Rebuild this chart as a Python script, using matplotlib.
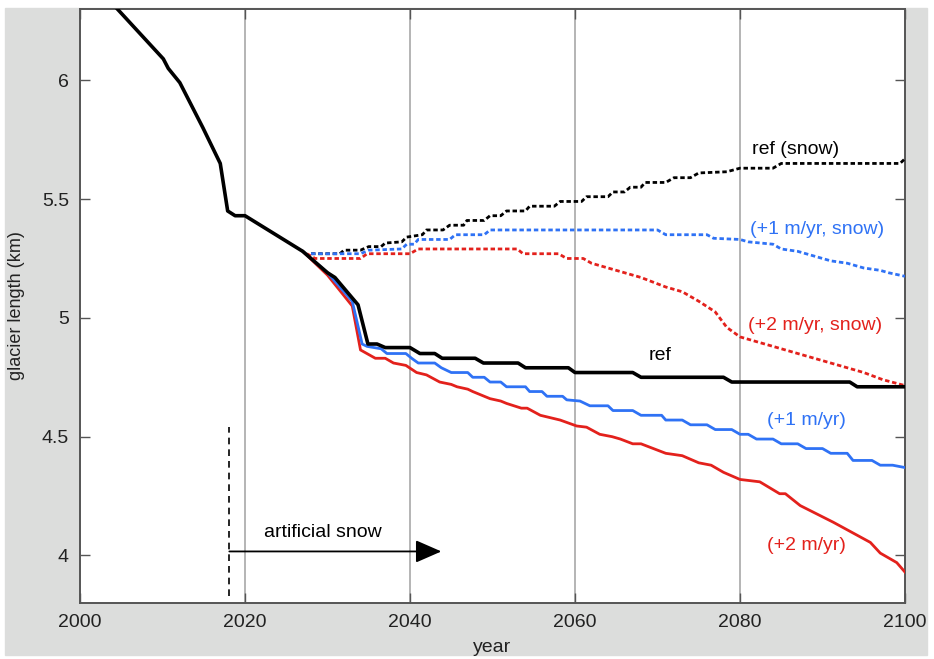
import matplotlib
matplotlib.use("Agg")
import matplotlib.pyplot as plt
from matplotlib.patches import Rectangle

plt.rcParams['font.family'] = ['Liberation Sans', 'DejaVu Sans']

# reference run (black solid), includes the observed past
ref_years = [2004, 2010.1, 2010.7, 2012.1, 2014.9, 2017.0, 2017.9, 2018.8, 2020, 2027,
             2030, 2030.9, 2033.7, 2034.9, 2036, 2037, 2040, 2041.2, 2043, 2043.9,
             2047.9, 2048.9, 2053.1, 2054, 2059.2, 2060, 2067, 2068, 2078, 2079,
             2093.3, 2094.2, 2100]
ref_len = [6.32, 6.09, 6.05, 5.99, 5.80, 5.65, 5.45, 5.43, 5.43, 5.28,
           5.19, 5.17, 5.055, 4.89, 4.89, 4.875, 4.875, 4.85, 4.85, 4.83,
           4.83, 4.81, 4.81, 4.79, 4.79, 4.77, 4.77, 4.75, 4.75, 4.73,
           4.73, 4.71, 4.71]

# +1 m/yr (blue solid)
p1_years = [2027, 2030, 2033, 2034.2, 2034.8, 2036.5, 2037.2, 2039.5, 2040.2, 2041,
            2043, 2043.8, 2045, 2047, 2047.6, 2049, 2049.7, 2051, 2051.7, 2054,
            2054.5, 2056, 2056.6, 2058.5, 2059, 2060.6, 2061.8, 2064, 2064.6, 2067,
            2068, 2070.5, 2071, 2073, 2074, 2076, 2077, 2079, 2080, 2081,
            2082, 2084, 2085, 2087, 2088, 2090, 2091, 2093, 2093.7, 2096,
            2097, 2098.5, 2100]
p1_len = [5.28, 5.19, 5.07, 4.89, 4.88, 4.87, 4.85, 4.85, 4.83, 4.81,
          4.81, 4.79, 4.77, 4.77, 4.75, 4.75, 4.73, 4.73, 4.71, 4.71,
          4.69, 4.69, 4.67, 4.67, 4.655, 4.65, 4.63, 4.63, 4.61, 4.61,
          4.59, 4.59, 4.57, 4.57, 4.55, 4.55, 4.53, 4.53, 4.51, 4.51,
          4.49, 4.49, 4.47, 4.47, 4.45, 4.45, 4.43, 4.43, 4.40, 4.40,
          4.38, 4.38, 4.37]

# +2 m/yr (red solid)
p2_years = [2027, 2030, 2033, 2034, 2035.8, 2037, 2038, 2039.5, 2040.8, 2042,
            2043.6, 2045, 2045.7, 2047, 2047.6, 2049, 2049.7, 2051, 2051.7, 2053.5,
            2054.2, 2055.8, 2057, 2058.2, 2060.2, 2061.4, 2063, 2064.5, 2065.5, 2067,
            2068, 2071, 2073, 2075, 2076.5, 2078, 2080, 2082.4, 2084.8, 2085.5,
            2087.3, 2091.3, 2095.8, 2097, 2099, 2100]
p2_len = [5.28, 5.18, 5.05, 4.865, 4.83, 4.83, 4.81, 4.80, 4.77, 4.76,
          4.73, 4.72, 4.71, 4.70, 4.69, 4.67, 4.66, 4.65, 4.64, 4.62,
          4.62, 4.59, 4.58, 4.57, 4.545, 4.54, 4.51, 4.50, 4.49, 4.47,
          4.47, 4.43, 4.42, 4.39, 4.38, 4.35, 4.32, 4.31, 4.26, 4.26,
          4.21, 4.14, 4.055, 4.01, 3.97, 3.93]

# ref with artificial snow (black dotted)
rs_years = [2028, 2031.5, 2032, 2034, 2035, 2036.5, 2037, 2039, 2039.6, 2041.5,
            2042, 2044, 2044.8, 2046.5, 2046.9, 2049, 2049.7, 2051, 2051.7, 2054,
            2054.5, 2057.5, 2058.2, 2060.8, 2061.4, 2064, 2064.6, 2066, 2066.7, 2068,
            2068.5, 2071, 2072, 2074, 2075, 2078.4, 2080, 2084, 2085, 2099.4, 2100]
rs_len = [5.27, 5.27, 5.285, 5.285, 5.30, 5.30, 5.315, 5.32, 5.34, 5.35,
          5.37, 5.37, 5.39, 5.39, 5.41, 5.41, 5.43, 5.43, 5.45, 5.45,
          5.47, 5.47, 5.49, 5.49, 5.51, 5.51, 5.53, 5.53, 5.55, 5.55,
          5.57, 5.57, 5.59, 5.59, 5.61, 5.615, 5.63, 5.63, 5.65, 5.65, 5.67]

# +1 m/yr with snow (blue dotted)
p1s_years = [2028, 2034, 2035, 2039, 2039.6, 2040.5, 2041, 2044.8, 2045.5, 2049,
             2049.7, 2070, 2071, 2076, 2076.8, 2080, 2081, 2084, 2085, 2087,
             2088, 2090, 2091, 2093, 2095, 2097, 2098, 2100]
p1s_len = [5.27, 5.27, 5.285, 5.29, 5.31, 5.31, 5.33, 5.33, 5.35, 5.35,
           5.37, 5.37, 5.35, 5.35, 5.335, 5.33, 5.32, 5.31, 5.29, 5.28,
           5.27, 5.25, 5.24, 5.23, 5.21, 5.20, 5.19, 5.175]

# +2 m/yr with snow (red dotted)
p2s_years = [2027.5, 2028.5, 2034, 2034.8, 2040, 2041, 2053, 2053.7, 2058, 2059,
             2061, 2062, 2064, 2066, 2068, 2071, 2073, 2075, 2077, 2078.4,
             2080, 2083, 2087, 2091, 2095, 2097.3, 2100]
p2s_len = [5.27, 5.25, 5.25, 5.27, 5.27, 5.29, 5.29, 5.27, 5.27, 5.25,
           5.25, 5.23, 5.21, 5.19, 5.17, 5.13, 5.11, 5.07, 5.025, 4.96,
           4.92, 4.89, 4.85, 4.81, 4.77, 4.74, 4.715]

blue = '#2f72f5'
red = '#e3211c'

fig = plt.figure(figsize=(9.34, 6.59), dpi=100, facecolor='white')
fig.patches.append(Rectangle((5 / 934, 4 / 659), 922 / 934, 647 / 659,
                             transform=fig.transFigure, color='#dcdddc', zorder=-1))
ax = fig.add_axes([80 / 934, 56 / 659, 825 / 934, 594 / 659])

for x in [2020, 2040, 2060, 2080]:
    ax.axvline(x, color='#a0a0a0', lw=1.1, zorder=1)

dots = (0, (1.6, 1.0))
ax.plot(rs_years, rs_len, color='black', lw=2.0, linestyle=dots, zorder=3)
ax.plot(p1s_years, p1s_len, color=blue, lw=2.0, linestyle=dots, zorder=3)
ax.plot(p2s_years, p2s_len, color=red, lw=2.0, linestyle=dots, zorder=3)
ax.plot(p2_years, p2_len, color=red, lw=2.0, zorder=4)
ax.plot(p1_years, p1_len, color=blue, lw=2.0, zorder=4)
ax.plot(ref_years, ref_len, color='black', lw=2.6, zorder=5)

# start of artificial snow
ax.plot([2018, 2018], [3.83, 4.54], color='black', lw=1.2, dashes=(4, 3))
ax.annotate('', xy=(2043.8, 4.017), xytext=(2018.1, 4.017),
            arrowprops=dict(arrowstyle='-|>,head_length=0.8,head_width=0.35',
                            color='black', lw=1.3, mutation_scale=20, shrinkA=0, shrinkB=0))
ax.text(2029.5, 4.097, 'artificial snow', fontsize=14, ha='center', va='center')

ax.text(2086.7, 5.71, 'ref (snow)', fontsize=14, ha='center', va='center', color='black')
ax.text(2089.3, 5.37, '(+1 m/yr, snow)', fontsize=14, ha='center', va='center', color=blue)
ax.text(2089.1, 4.966, '(+2 m/yr, snow)', fontsize=14, ha='center', va='center', color=red)
ax.text(2070.3, 4.84, 'ref', fontsize=14, ha='center', va='center', color='black')
ax.text(2088.0, 4.567, '(+1 m/yr)', fontsize=14, ha='center', va='center', color=blue)
ax.text(2088.1, 4.04, '(+2 m/yr)', fontsize=14, ha='center', va='center', color=red)

ax.set_xlim(2000, 2100)
ax.set_ylim(3.8, 6.3)
ax.set_xticks([2000, 2020, 2040, 2060, 2080, 2100])
ax.set_yticks([4, 4.5, 5, 5.5, 6])
ax.set_yticklabels(['4', '4.5', '5', '5.5', '6'])
ax.tick_params(direction='in', length=7, width=1, colors='#555555', labelcolor='#222222',
               labelsize=14, top=True, right=True, pad=8)
for s in ax.spines.values():
    s.set_color('#555555')
    s.set_linewidth(1.4)
ax.set_xlabel('year', fontsize=14, color='#222222', labelpad=6)
ax.set_ylabel('glacier length (km)', fontsize=13, color='#222222', labelpad=12)

fig.savefig('out.png', dpi=100)
